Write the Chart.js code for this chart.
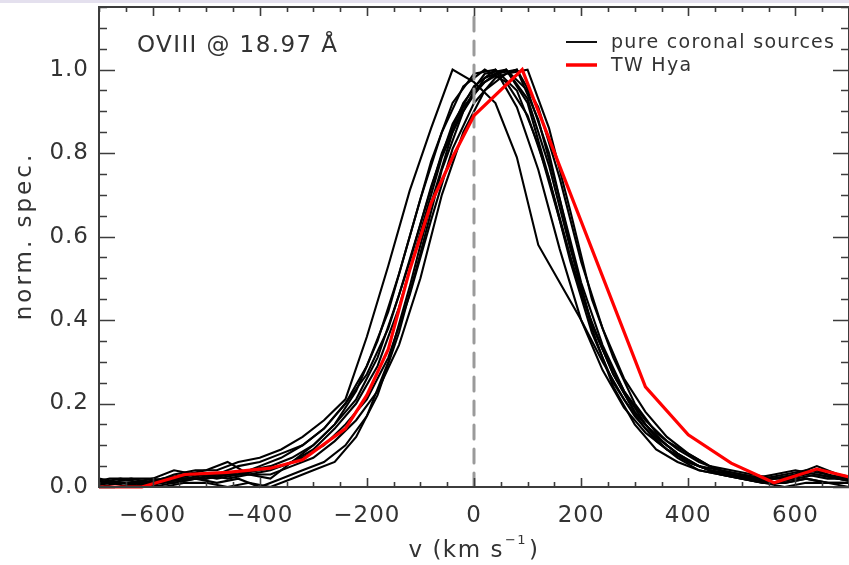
<!DOCTYPE html>
<html>
<head>
<meta charset="utf-8">
<script src="https://cdn.jsdelivr.net/npm/chart.js@4"></script>
<style>
  html, body { margin: 0; padding: 0; background: #fff; }
  canvas { display: block; }
</style>
</head>
<body>
<canvas id="chart" width="849" height="565"></canvas>
<script>
// velocity grids (km/s)
const velA = [-700,-660,-620,-580,-540,-500,-460,-420,-380,-340,-300,-260,-220,-180,-140,-100,-60,-20,
              20,60,100,140,180,220,260,300,340,380,420,460,500,540,580,620,660,700];
const velB = [-720,-680,-640,-600,-560,-520,-480,-440,-400,-360,-320,-280,-240,-200,-160,-120,-80,-40,
              0,40,80,120,160,200,240,280,320,360,400,440,480,520,560,600,640,680,720];
const redVel = [-700,-620,-540,-460,-380,-320,-240,-200,-160,-120,-80,-40,0,90,320,400,480,560,640,700];

// normalised spectra, pure coronal sources (grid A)
const srcA1 = [0.01,0.01,0.00,0.01,0.02,0.02, 0.03,0.03,0.04,0.06,0.09,0.14, 0.20,0.29,0.43,0.61,0.79,0.91,
               0.97,1.00,0.93,0.77,0.57,0.39, 0.27,0.18,0.12,0.08,0.05,0.03, 0.02,0.01,0.01,0.02,0.01,0.01];
const srcA2 = [0.02,0.01,0.01,0.00,0.01,0.01, 0.00,0.01,0.00,0.02,0.04,0.06, 0.12,0.22,0.37,0.56,0.76,0.90,
               0.98,1.00,0.95,0.80,0.58,0.38, 0.24,0.15,0.09,0.06,0.04,0.03, 0.02,0.01,0.00,0.01,0.01,0.00];
const srcA3 = [0.01,0.02,0.01,0.02,0.02,0.03, 0.02,0.03,0.03,0.05,0.07,0.11, 0.16,0.23,0.34,0.50,0.70,0.85,
               0.95,0.99,1.00,0.86,0.66,0.45, 0.31,0.20,0.13,0.09,0.06,0.04, 0.03,0.02,0.02,0.03,0.02,0.02];
const srcA4 = [0.00,0.01,0.01,0.02,0.03,0.04, 0.06,0.03,0.02,0.06,0.10,0.15, 0.23,0.35,0.51,0.69,0.85,0.96,
               1.00,0.97,0.89,0.74,0.55,0.39, 0.27,0.18,0.12,0.08,0.05,0.04, 0.03,0.02,0.03,0.04,0.03,0.02];
const srcA5 = [0.00,0.00,0.01,0.01,0.02,0.02, 0.03,0.04,0.05,0.07,0.10,0.15, 0.21,0.31,0.46,0.63,0.80,0.92,
               0.99,1.00,0.92,0.74,0.54,0.37, 0.25,0.17,0.11,0.07,0.04,0.03, 0.02,0.01,0.01,0.02,0.01,0.01];
// pure coronal sources (grid B)
const srcB1 = [0.01,0.01,0.02,0.01,0.03,0.04, 0.04,0.06,0.07,0.09,0.12,0.16, 0.21,0.36,0.53,0.71,0.86,1.00,
               0.97,0.92,0.79,0.58,0.49,0.40, 0.30,0.21,0.14,0.09,0.06,0.04, 0.03,0.02,0.01,0.03,0.04,0.02, 0.01];
const srcB2 = [0.00,0.01,0.00,0.01,0.02,0.03, 0.03,0.05,0.06,0.08,0.10,0.14, 0.20,0.27,0.38,0.54,0.72,0.87,
               0.96,1.00,0.95,0.82,0.64,0.46, 0.33,0.23,0.16,0.11,0.08,0.05, 0.04,0.03,0.02,0.03,0.05,0.03, 0.02];
const srcB3 = [0.02,0.01,0.01,0.02,0.01,0.02, 0.01,0.02,0.00,0.02,0.04,0.06, 0.10,0.17,0.30,0.48,0.68,0.85,
               0.95,0.99,1.00,0.88,0.69,0.49, 0.34,0.23,0.15,0.10,0.06,0.04, 0.03,0.02,0.01,0.02,0.03,0.02, 0.01];
const srcB4 = [0.01,0.02,0.02,0.02,0.04,0.03, 0.02,0.03,0.05,0.07,0.10,0.14, 0.20,0.29,0.42,0.60,0.78,0.92,
               0.99,1.00,0.91,0.76,0.57,0.40, 0.28,0.19,0.13,0.09,0.06,0.04, 0.03,0.02,0.03,0.04,0.03,0.02, 0.02];
const srcB5 = [0.00,0.01,0.01,0.00,0.01,0.02, 0.03,0.03,0.04,0.05,0.07,0.10, 0.15,0.21,0.31,0.46,0.64,0.81,
               0.92,0.98,1.00,0.91,0.74,0.54, 0.38,0.26,0.18,0.12,0.08,0.05, 0.03,0.02,0.02,0.03,0.04,0.02, 0.01];

// TW Hya
const twHya = [0.00,0.00,0.03,0.035,0.045,0.065,0.14,0.22,0.33,0.52,0.68,0.79,0.89,1.00,0.24,0.125,0.057,0.01,0.043,0.024];

const xTickValues = [-600,-400,-200,0,200,400,600];
const yTickValues = [0, 0.2, 0.4, 0.6, 0.8, 1.0];
const seriesNames = ['pure coronal sources', 'TW Hya'];
const lineLabel = 'OVIII @ 18.97 Å';
const xTitle = ['v (km s', '\u22121', ')'];
const yTitle = 'norm. spec.';

const FONT = 'DejaVu Sans';
const INK = '#333';

function pts(vel, vals) {
    return vel.map((v, i) => ({ x: v, y: vals[i] }));
}

const coronalA = [srcA1, srcA2, srcA3, srcA4, srcA5];
const coronalB = [srcB1, srcB2, srcB3, srcB4, srcB5];

const blackSets = [];
coronalA.forEach(s => blackSets.push(pts(velA, s)));
coronalB.forEach(s => blackSets.push(pts(velB, s)));

const decor = {
    id: 'decor',
    beforeDraw(chart) {
        chart.ctx.letterSpacing = '1px';
    },
    afterDatasetsDraw(chart) {
        const { ctx, chartArea: a, scales: { x, y } } = chart;
        ctx.save();
        ctx.strokeStyle = '#3c3c3c';
        ctx.lineWidth = 1.6;
        ctx.beginPath();
        for (let v = -700; v <= 700; v += 50) {
            const px = Math.round(x.getPixelForValue(v)) + 0.5;
            const len = v % 200 === 0 ? 9 : 5;
            ctx.moveTo(px, a.bottom); ctx.lineTo(px, a.bottom - len);
            ctx.moveTo(px, a.top); ctx.lineTo(px, a.top + len);
        }
        for (let i = 0; i <= 23; i++) {
            const py = Math.round(y.getPixelForValue(i * 0.05)) + 0.5;
            const len = i % 4 === 0 ? 16 : 8;
            ctx.moveTo(a.left, py); ctx.lineTo(a.left + len, py);
            ctx.moveTo(a.right, py); ctx.lineTo(a.right - len, py);
        }
        ctx.stroke();
        ctx.lineWidth = 2;
        ctx.strokeRect(a.left, a.top, a.right - a.left, a.bottom - a.top);
        ctx.restore();
    },
    afterDraw(chart) {
        const ctx = chart.ctx;
        ctx.save();
        // thin band along the top edge
        ctx.fillStyle = '#e4e0ee';
        ctx.fillRect(0, 0, chart.width, 3);

        ctx.fillStyle = INK;
        ctx.textBaseline = 'alphabetic';
        ctx.textAlign = 'left';

        ctx.font = `23px ${FONT}`;
        ctx.letterSpacing = '1.4px';
        ctx.fillText(lineLabel, 137, 52);

        // legend
        ctx.lineWidth = 2;
        ctx.strokeStyle = '#111';
        ctx.beginPath(); ctx.moveTo(566, 42); ctx.lineTo(597, 42); ctx.stroke();
        ctx.lineWidth = 3.5;
        ctx.strokeStyle = '#ff0000';
        ctx.beginPath(); ctx.moveTo(566, 65); ctx.lineTo(597, 65); ctx.stroke();
        ctx.font = `19px ${FONT}`;
        ctx.letterSpacing = '1.3px';
        ctx.fillText(seriesNames[0], 611, 48);
        ctx.fillText(seriesNames[1], 611, 71);

        // x title with superscript
        ctx.letterSpacing = '1.5px';
        ctx.font = `23px ${FONT}`;
        const wA = ctx.measureText(xTitle[0]).width;
        const wC = ctx.measureText(xTitle[2]).width;
        ctx.font = `13px ${FONT}`;
        const wB = ctx.measureText(xTitle[1]).width;
        let x0 = 474 - (wA + wB + wC + 3) / 2;
        ctx.font = `23px ${FONT}`;
        ctx.fillText(xTitle[0], x0, 557);
        ctx.font = `13px ${FONT}`;
        ctx.fillText(xTitle[1], x0 + wA + 1, 544);
        ctx.font = `23px ${FONT}`;
        ctx.fillText(xTitle[2], x0 + wA + wB + 3, 557);

        // y title
        ctx.translate(25, 236);
        ctx.rotate(-Math.PI / 2);
        ctx.textAlign = 'center';
        ctx.textBaseline = 'middle';
        ctx.letterSpacing = '3px';
        ctx.fillText(yTitle, 0, 0);
        ctx.restore();
    }
};

const datasets = blackSets.map(d => ({
    data: d,
    borderColor: '#000',
    borderWidth: 2.1,
    order: 2,
    clip: { left: 0, right: 0, top: 0, bottom: 2 }
}));

datasets.push({
    data: [{ x: 0, y: 0 }, { x: 0, y: 1.15 }],
    borderColor: '#9a9a9a',
    borderWidth: 3,
    borderDash: [14, 10],
    order: 1
});

datasets.push({
    data: pts(redVel, twHya),
    borderColor: '#ff0000',
    borderWidth: 3.2,
    order: 0,
    clip: { left: 0, right: 0, top: 0, bottom: 2 }
});

new Chart(document.getElementById('chart').getContext('2d'), {
    type: 'line',
    data: { datasets },
    options: {
        responsive: false,
        animation: false,
        layout: { padding: { left: 0, top: 7, right: -2, bottom: 0 } },
        elements: {
            point: { radius: 0 },
            line: { tension: 0, borderCapStyle: 'round', borderJoinStyle: 'miter' }
        },
        plugins: { legend: { display: false }, tooltip: { enabled: false } },
        scales: {
            x: {
                type: 'linear',
                min: -700,
                max: 700,
                grid: { display: false, drawTicks: false },
                border: { display: false },
                afterBuildTicks: s => { s.ticks = xTickValues.map(v => ({ value: v })); },
                afterFit: s => { s.height = 78; s.paddingLeft = 0; s.paddingRight = 0; },
                ticks: {
                    padding: 15,
                    maxRotation: 0,
                    color: INK,
                    font: { family: FONT, size: 23 },
                    callback: v => v < 0 ? '\u2212' + Math.abs(v) : String(v)
                }
            },
            y: {
                type: 'linear',
                min: 0,
                max: 1.15,
                grid: { display: false, drawTicks: false },
                border: { display: false },
                afterBuildTicks: s => { s.ticks = yTickValues.map(v => ({ value: v })); },
                afterFit: s => { s.width = 99; s.paddingTop = 0; s.paddingBottom = 0; },
                ticks: {
                    padding: 10,
                    color: INK,
                    font: { family: FONT, size: 23 },
                    callback: v => v.toFixed(1)
                }
            }
        }
    },
    plugins: [decor]
});
</script>
</body>
</html>
